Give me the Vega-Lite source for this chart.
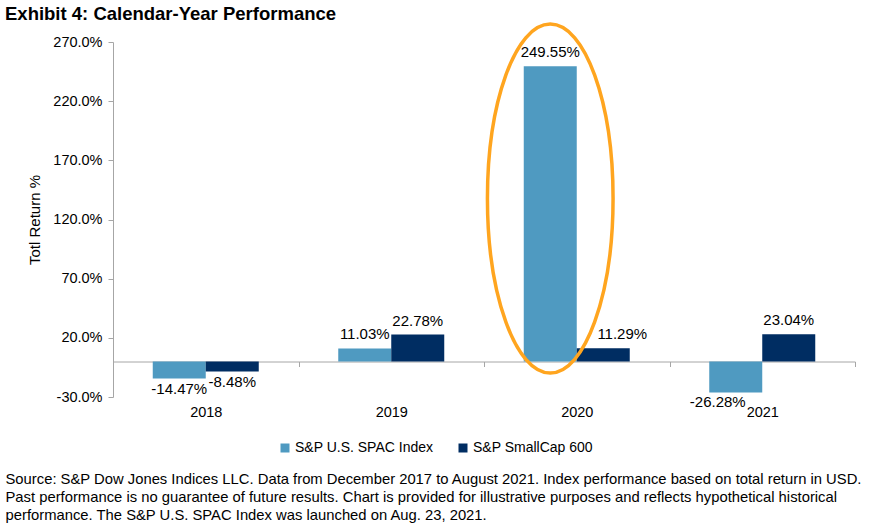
{
  "$schema": "https://vega.github.io/schema/vega-lite/v6.json",
  "autosize": "none",
  "width": 742,
  "height": 355,
  "padding": {"left": 113, "top": 42, "right": 15, "bottom": 133},
  "background": "white",
  "config": {
    "view": {"stroke": null},
    "font": "Liberation Sans",
    "text": {"font": "Liberation Sans"},
    "locale": {
      "number": {"decimal": ".", "thousands": ",", "grouping": [3], "currency": ["$", ""], "minus": "-"}
    }
  },
  "title": {
    "text": "Exhibit 4: Calendar-Year Performance",
    "anchor": "start",
    "frame": "group",
    "dx": -108,
    "dy": 14,
    "offset": 8,
    "font": "Liberation Sans",
    "fontSize": 18.5,
    "fontWeight": "bold",
    "color": "#000000"
  },
  "datasets": {
    "perf": [
      {"year": "2018", "series": "S&P U.S. SPAC Index", "ret": -0.1447},
      {"year": "2018", "series": "S&P SmallCap 600", "ret": -0.0848},
      {"year": "2019", "series": "S&P U.S. SPAC Index", "ret": 0.1103},
      {"year": "2019", "series": "S&P SmallCap 600", "ret": 0.2278},
      {"year": "2020", "series": "S&P U.S. SPAC Index", "ret": 2.4955},
      {"year": "2020", "series": "S&P SmallCap 600", "ret": 0.1129},
      {"year": "2021", "series": "S&P U.S. SPAC Index", "ret": -0.2628},
      {"year": "2021", "series": "S&P SmallCap 600", "ret": 0.2304}
    ],
    "highlight": [
      {"year": "2020", "series": "S&P U.S. SPAC Index", "ret": 1.377}
    ]
  },
  "encoding": {
    "x": {
      "field": "year",
      "type": "nominal",
      "scale": {"paddingInner": 0, "paddingOuter": 0},
      "axis": {
        "orient": "bottom",
        "offset": -35.5,
        "labelAngle": 0,
        "labelFont": "Liberation Sans",
        "labelFontSize": 14.5,
        "labelColor": "#000000",
        "labelPadding": 39,
        "tickBand": "extent",
        "tickSize": 5,
        "tickColor": "#A6A6A6",
        "domainColor": "#A6A6A6",
        "title": [
          "Source: S&P Dow Jones Indices LLC. Data from December 2017 to August 2021. Index performance based on total return in USD.",
          "Past performance is no guarantee of future results. Chart is provided for illustrative purposes and reflects hypothetical historical",
          "performance. The S&P U.S. SPAC Index was launched on Aug. 23, 2021."
        ],
        "titleX": -108,
        "titleY": 110,
        "titleAlign": "left",
        "titleBaseline": "top",
        "titleAngle": 0,
        "titleFont": "Liberation Sans",
        "titleFontSize": 14.8,
        "titleFontWeight": "normal",
        "titleColor": "#000000",
        "titleLineHeight": 18
      }
    },
    "xOffset": {
      "field": "series",
      "type": "nominal",
      "scale": {"domain": ["S&P U.S. SPAC Index", "S&P SmallCap 600"], "paddingInner": 0, "paddingOuter": 0.75}
    },
    "y": {
      "field": "ret",
      "type": "quantitative",
      "scale": {"domain": [-0.3, 2.7], "nice": false, "zero": false},
      "axis": {
        "values": [-0.3, 0.2, 0.7, 1.2, 1.7, 2.2, 2.7],
        "format": ".1%",
        "grid": false,
        "labelFont": "Liberation Sans",
        "labelFontSize": 14.5,
        "labelColor": "#000000",
        "labelPadding": 6,
        "tickSize": 5,
        "tickColor": "#A6A6A6",
        "domainColor": "#A6A6A6",
        "title": "Totl Return %",
        "titleFont": "Liberation Sans",
        "titleFontSize": 15,
        "titleFontWeight": "normal",
        "titleColor": "#000000",
        "titlePadding": 10
      }
    }
  },
  "layer": [
    {
      "data": {"name": "perf"},
      "mark": {"type": "bar"},
      "encoding": {
        "y2": {"datum": 0},
        "color": {
          "field": "series",
          "type": "nominal",
          "scale": {"domain": ["S&P U.S. SPAC Index", "S&P SmallCap 600"], "range": ["#4F9AC1", "#002D62"]},
          "legend": {
            "title": null,
            "orient": "none",
            "direction": "horizontal",
            "legendX": 165,
            "legendY": 399,
            "symbolType": "square",
            "symbolSize": 81,
            "symbolStrokeWidth": 0,
            "labelFont": "Liberation Sans",
            "labelFontSize": 14,
            "labelColor": "#000000",
            "labelOffset": 3,
            "columnPadding": 22
          }
        }
      }
    },
    {
      "data": {"name": "perf"},
      "transform": [{"filter": "datum.ret >= 0 && !(datum.year == '2020' && datum.series == 'S&P SmallCap 600')"}],
      "mark": {"type": "text", "baseline": "bottom", "dy": -6, "fontSize": 15, "color": "#000000"},
      "encoding": {"text": {"field": "ret", "type": "quantitative", "format": ".2%"}}
    },
    {
      "data": {"name": "perf"},
      "transform": [{"filter": "datum.year == '2020' && datum.series == 'S&P SmallCap 600'"}],
      "mark": {"type": "text", "baseline": "bottom", "dy": -6, "dx": 19, "fontSize": 15, "color": "#000000"},
      "encoding": {"text": {"field": "ret", "type": "quantitative", "format": ".2%"}}
    },
    {
      "data": {"name": "perf"},
      "transform": [{"filter": "datum.ret < 0 && datum.year != '2021'"}],
      "mark": {"type": "text", "baseline": "top", "dy": 3, "fontSize": 15, "color": "#000000"},
      "encoding": {"text": {"field": "ret", "type": "quantitative", "format": ".2%"}}
    },
    {
      "data": {"name": "perf"},
      "transform": [{"filter": "datum.ret < 0 && datum.year == '2021'"}],
      "mark": {"type": "text", "baseline": "top", "dy": 2, "dx": -18, "fontSize": 15, "color": "#000000"},
      "encoding": {"text": {"field": "ret", "type": "quantitative", "format": ".2%"}}
    },
    {
      "data": {"name": "highlight"},
      "mark": {
        "type": "point",
        "shape": "M0,-1 A0.36,1 0 1,1 0,1 A0.36,1 0 1,1 0,-1 Z",
        "size": 121801,
        "filled": false,
        "stroke": "#FFA51F",
        "strokeWidth": 3.5,
        "opacity": 1
      },
      "encoding": {}
    }
  ]
}
